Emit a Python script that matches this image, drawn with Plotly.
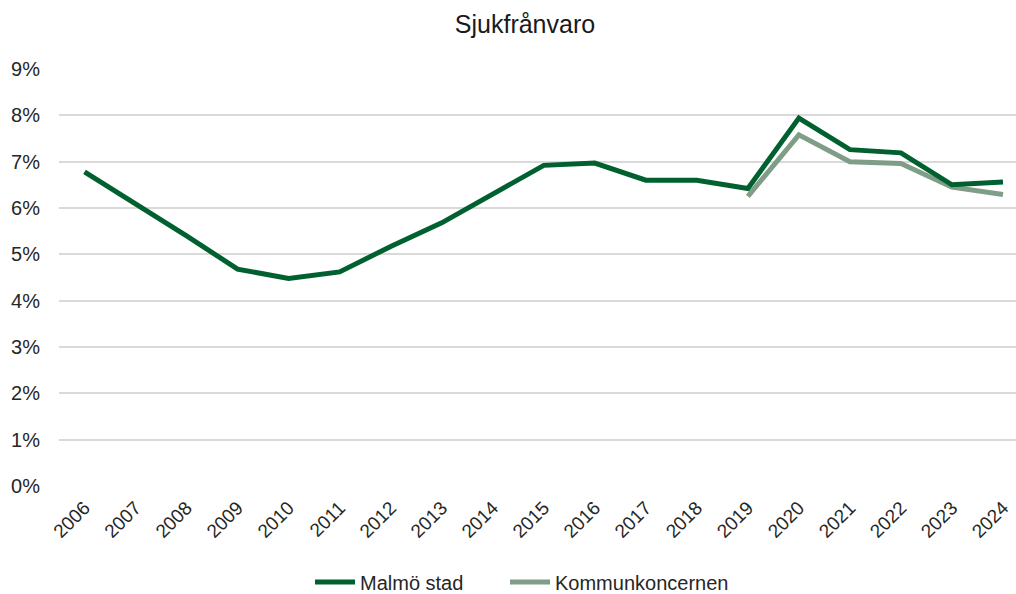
import plotly.graph_objects as go

years = [str(y) for y in range(2006, 2025)]
malmo = [6.78, 6.10, 5.40, 4.68, 4.48, 4.62, 5.17, 5.68, 6.29, 6.92, 6.97, 6.60, 6.60, 6.42,
         7.94, 7.26, 7.19, 6.50, 6.56]
kommun = [None] * 13 + [6.25, 7.58, 7.00, 6.96, 6.45, 6.29]
malmo_pct = [v / 100 for v in malmo]
kommun_pct = [v / 100 if v is not None else None for v in kommun]

FONT = "Liberation Sans, Arial, sans-serif"

fig = go.Figure()
fig.add_trace(go.Scatter(x=years, y=kommun_pct, mode="lines", name="Kommunkoncernen",
                         line=dict(color="#7F9D87", width=5), legend="legend2"))
fig.add_trace(go.Scatter(x=years, y=malmo_pct, mode="lines", name="Malmö stad",
                         line=dict(color="#00602F", width=5), legend="legend"))

leg_common = dict(orientation="h", xanchor="left", xref="container",
                  y=12 / 594, yref="container", yanchor="middle",
                  font=dict(size=20), itemwidth=40, bgcolor="rgba(0,0,0,0)")

fig.update_layout(
    width=1016, height=594,
    paper_bgcolor="white", plot_bgcolor="white",
    margin=dict(l=59, r=0, t=69, b=107.5, autoexpand=False),
    font=dict(family=FONT, size=20, color="#262626"),
    title=dict(text="Sjukfrånvaro", x=525 / 1016, xanchor="center", xref="container",
               y=1 - 24 / 594, yref="container", yanchor="middle",
               font=dict(size=25, color="#1a1a1a")),
    showlegend=True,
    legend=dict(x=310 / 1016, **leg_common),
    legend2=dict(x=505 / 1016, **leg_common),
    xaxis=dict(type="category", range=[-0.5, 18.255], showgrid=False, showline=False,
               zeroline=False, tickangle=-45, ticks="", ticklabelstandoff=6,
               tickfont=dict(size=19), automargin=False),
    yaxis=dict(range=[0, 0.09], dtick=0.01, tickformat=".0%", showgrid=True,
               gridcolor="#D9D9D9", gridwidth=1.5, zeroline=False, showline=False,
               ticks="", ticklabelstandoff=18, tickfont=dict(size=20), automargin=False),
)

fig.write_html("out.html", config={"displayModeBar": False},
               post_script="document.body.style.margin='0px';document.body.style.overflow='hidden';")
